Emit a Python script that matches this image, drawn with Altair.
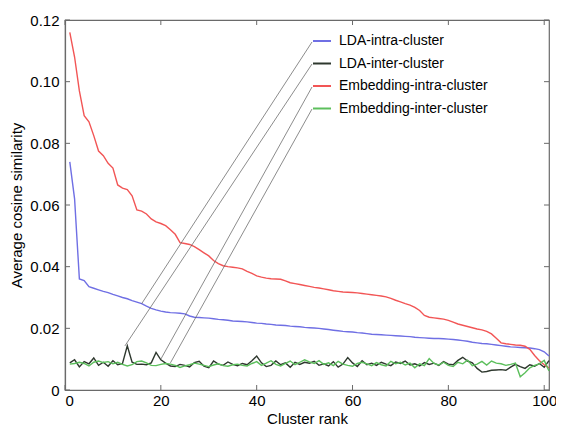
import altair as alt
import pandas as pd

series_names = ["LDA-intra-cluster", "LDA-inter-cluster",
                "Embedding-intra-cluster", "Embedding-inter-cluster"]
series_colors = ["#6f6fe4", "#2e382e", "#f25555", "#5cbf5c"]

rank = list(range(1, 102))

lda_intra = [0.074, 0.062, 0.036, 0.0355, 0.0335, 0.033, 0.0325, 0.032, 0.0316, 0.031,
             0.0305, 0.030, 0.0296, 0.029, 0.0285, 0.0280, 0.0272, 0.0265, 0.026, 0.0256,
             0.0253, 0.0251, 0.025, 0.0249, 0.0247, 0.0240, 0.0236, 0.0235, 0.0234, 0.0233,
             0.0231, 0.0229, 0.0228, 0.0226, 0.0224, 0.0223, 0.0222, 0.0221, 0.0219, 0.0217,
             0.0216, 0.0214, 0.0213, 0.0211, 0.021, 0.0209, 0.0207, 0.0206, 0.0205, 0.0203,
             0.0202, 0.0201, 0.020, 0.0198, 0.0196, 0.0194, 0.0192, 0.019, 0.0189, 0.0188,
             0.0186, 0.0185, 0.0183, 0.0181, 0.018, 0.0179, 0.0178, 0.0177, 0.0176, 0.0175,
             0.0174, 0.0173, 0.0171, 0.017, 0.0169, 0.0168, 0.0167, 0.0167, 0.0166, 0.0165,
             0.0164, 0.0162, 0.016, 0.0158, 0.0155, 0.0153, 0.0151, 0.015, 0.0148, 0.0146,
             0.0144, 0.0142, 0.014, 0.0139, 0.0138, 0.0137, 0.0136, 0.0134, 0.0131, 0.0124,
             0.011]

lda_inter = [0.0088, 0.0098, 0.0075, 0.0092, 0.0085, 0.0104, 0.0080, 0.0090, 0.0077, 0.0095,
             0.0082, 0.0086, 0.0143, 0.0090, 0.0083, 0.0084, 0.0082, 0.0088, 0.0122, 0.0098,
             0.0087, 0.0078, 0.0076, 0.0083, 0.0080, 0.0075, 0.0089, 0.0093, 0.0077, 0.0072,
             0.0094, 0.0084, 0.0080, 0.0091, 0.0083, 0.0079, 0.0086, 0.0082, 0.0095, 0.0110,
             0.0088, 0.0076, 0.0080, 0.0094, 0.0082, 0.0088, 0.0074, 0.0090, 0.0083, 0.0090,
             0.0087, 0.0093, 0.0080, 0.0085, 0.0078, 0.0092, 0.0074, 0.0084, 0.0105, 0.0088,
             0.0076, 0.0095, 0.0082, 0.0087, 0.0080, 0.0090, 0.0084, 0.0079, 0.0091, 0.0086,
             0.0094, 0.0081, 0.0085, 0.0078, 0.0089, 0.0083, 0.0087, 0.0080, 0.0092, 0.0084,
             0.0082, 0.0096, 0.0106, 0.0094, 0.0088, 0.0070, 0.0058, 0.0060, 0.0064, 0.0065,
             0.0066, 0.0064, 0.0074, 0.0083, 0.0076, 0.0070, 0.0082, 0.0077, 0.0086, 0.0074,
             0.0095]

emb_intra = [0.116, 0.108, 0.097, 0.089, 0.087, 0.0825, 0.0775, 0.076, 0.0735, 0.072,
             0.0665, 0.0655, 0.065, 0.0630, 0.0584, 0.058, 0.0571, 0.0555, 0.0545, 0.054,
             0.0533, 0.052, 0.0505, 0.0478, 0.0475, 0.0472, 0.0465, 0.0455, 0.0445, 0.0435,
             0.042, 0.041, 0.0403, 0.040, 0.0398, 0.0396, 0.0393, 0.0385, 0.0378, 0.037,
             0.0366, 0.0363, 0.0361, 0.036, 0.0359, 0.0354, 0.0348, 0.0345, 0.0342, 0.0339,
             0.0336, 0.0333, 0.0331, 0.0328, 0.0325, 0.0322, 0.032, 0.0318, 0.0317, 0.0316,
             0.0315, 0.0313, 0.0311, 0.0309, 0.0307, 0.0305, 0.0302, 0.0297, 0.0291, 0.0286,
             0.028, 0.0275, 0.0268, 0.0258, 0.0242, 0.0236, 0.0234, 0.0232, 0.023, 0.0226,
             0.022, 0.0214, 0.021, 0.0206, 0.0202, 0.0198, 0.0195, 0.019, 0.0182, 0.0168,
             0.0153, 0.015, 0.0148, 0.0146, 0.0145, 0.0142, 0.0132, 0.0112, 0.0095, 0.0082,
             0.0072]

emb_inter = [0.0084, 0.0086, 0.0090, 0.0086, 0.0078, 0.0090, 0.0094, 0.0089, 0.0092, 0.0085,
             0.0090, 0.0083, 0.0078, 0.0082, 0.0092, 0.0094, 0.0088, 0.0080, 0.0079, 0.0083,
             0.0086, 0.0084, 0.0080, 0.0073, 0.0078, 0.0082, 0.0087, 0.0084, 0.0080, 0.0076,
             0.0081, 0.0085, 0.0079, 0.0077, 0.0082, 0.0084, 0.0080, 0.0078, 0.0086, 0.0092,
             0.0080, 0.0087, 0.0095, 0.0083, 0.0078, 0.0086, 0.0094, 0.0082, 0.0090, 0.0098,
             0.0091, 0.0086, 0.0095, 0.0083, 0.0088, 0.0079, 0.0093, 0.0084, 0.0080, 0.0077,
             0.0086, 0.0090, 0.0085, 0.0079, 0.0089, 0.0082, 0.0078, 0.0093, 0.0085, 0.0090,
             0.0081, 0.0087, 0.0072, 0.0085, 0.0079, 0.0102, 0.0086, 0.0081, 0.0090, 0.0080,
             0.0076, 0.0090, 0.0085, 0.0097, 0.0079, 0.0084, 0.0093, 0.0081, 0.0094, 0.0087,
             0.0085, 0.0080, 0.0083, 0.0087, 0.0043, 0.0056, 0.0072, 0.0080, 0.0085, 0.0096,
             0.0062]

# where each legend entry's leader line points to (rank, value)
leader_x = [16, 12.5, 20, 22]
leader_y = [0.028, 0.0143, 0.0100, 0.0088]

x_ticks = [0, 20, 40, 60, 80, 100]
y_ticks = [0, 0.02, 0.04, 0.06, 0.08, 0.10, 0.12]

W, H = 484, 370
FONT = "Liberation Sans"
AXIS_GRAY = "#6a6a6a"
LEG_X = 247

all_series = [lda_intra, lda_inter, emb_intra, emb_inter]
rows = []
for name, vals in zip(series_names, all_series):
    for r, v in zip(rank, vals):
        rows.append({"rank": r, "value": v, "series": name})
df = pd.DataFrame(rows)

x_scale = alt.Scale(domain=[0, 101], nice=False, zero=False)
y_scale = alt.Scale(domain=[0, 0.12], nice=False)

lines = alt.Chart(df).mark_line(strokeWidth=1.4).encode(
    x=alt.X("rank:Q", scale=x_scale,
            axis=alt.Axis(values=x_ticks, title="Cluster rank", ticks=False,
                          labelPadding=3, titlePadding=3, grid=False)),
    y=alt.Y("value:Q", scale=y_scale,
            axis=alt.Axis(values=y_ticks, title="Average cosine similarity", ticks=False,
                          labelPadding=6, titlePadding=5, grid=False,
                          labelExpr="datum.value == 0 ? '0' : format(datum.value, '.2f')")),
    color=alt.Color("series:N",
                    scale=alt.Scale(domain=series_names, range=series_colors),
                    sort=series_names,
                    legend=alt.Legend(title=None, orient="none", legendX=LEG_X, legendY=11,
                                      symbolType="stroke", symbolSize=324,
                                      symbolStrokeWidth=2, labelFontSize=14,
                                      labelFont=FONT, labelColor="#000000",
                                      rowPadding=5.5, padding=0,
                                      labelOffset=7)),
    order=alt.Order("rank:Q"),
)

layers = [lines]

# leader lines from legend entries to the curves
legend_start_y = [22, 44, 67, 89]
for i, name in enumerate(series_names):
    ldf = pd.DataFrame({"rank": [leader_x[i]], "value": [leader_y[i]]})
    layers.append(
        alt.Chart(ldf).mark_rule(color="#5a5a5a", strokeWidth=0.7).encode(
            x="rank:Q", y="value:Q",
            x2=alt.value(LEG_X), y2=alt.value(legend_start_y[i]))
    )

# inward ticks on all four sides
xt = pd.DataFrame({"rank": x_ticks})
yt = pd.DataFrame({"value": y_ticks})
tick_style = dict(color=AXIS_GRAY, strokeWidth=1)
layers.append(alt.Chart(xt).mark_rule(**tick_style).encode(
    x="rank:Q", y=alt.value(H), y2=alt.value(H - 5)))
layers.append(alt.Chart(xt).mark_rule(**tick_style).encode(
    x="rank:Q", y=alt.value(0), y2=alt.value(5)))
layers.append(alt.Chart(yt).mark_rule(**tick_style).encode(
    y="value:Q", x=alt.value(0), x2=alt.value(5)))
layers.append(alt.Chart(yt).mark_rule(**tick_style).encode(
    y="value:Q", x=alt.value(W), x2=alt.value(W - 5)))

chart = alt.layer(*layers).properties(
    width=W, height=H, background="white",
    autosize=alt.AutoSizeParams(type="none"),
    padding={"left": 57, "top": 12, "right": 7, "bottom": 38},
).configure_view(
    stroke=AXIS_GRAY, strokeWidth=1.2
).configure_axis(
    labelFont=FONT, titleFont=FONT, labelFontSize=15, titleFontSize=15,
    labelColor="#000000", titleColor="#000000", titleFontWeight="normal",
    domainColor=AXIS_GRAY, domainWidth=1.2
)

chart.save("out.html", embed_options={"renderer": "svg", "actions": False})
